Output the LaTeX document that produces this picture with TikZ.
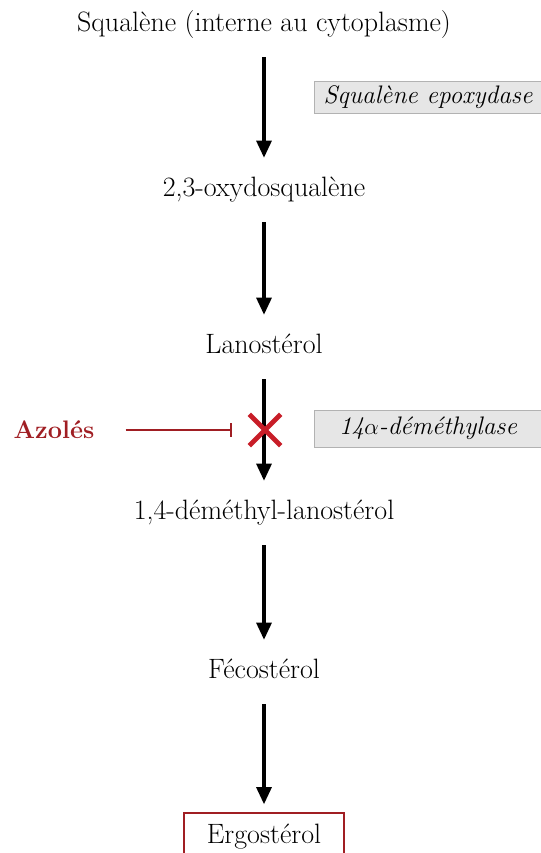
\documentclass[tikz,border=0pt]{standalone}
\usepackage{xcolor}
\usepackage{tikz}
\usetikzlibrary{arrows.meta,shapes.misc}
\definecolor{azolered}{RGB}{160,30,35}
\definecolor{crossred}{RGB}{200,30,40}
\definecolor{enzgray}{RGB}{230,230,230}

\begin{document}
\begin{tikzpicture}[x=0.75pt,y=-0.75pt,font=\fontsize{21}{25}\selectfont,
        compound/.style={text height=15pt,text depth=5pt},
        reaction/.style={-{Triangle[length=13pt,width=11pt]},line width=3pt,shorten <=10.5pt,shorten >=10.5pt},
        enzyme/.style={draw=gray!60,fill=enzgray,minimum width=170pt,minimum height=23pt,
            font=\fontsize{19}{22}\selectfont\itshape}]
        \useasboundingbox (0,0) rectangle (541,853);
        \node [compound] (squalene) at (264,25) {Squalène (interne au cytoplasme)};
        \node [compound] (oxydo) at (264,190) {2,3-oxydosqualène};
        \node [compound] (lano) at (264,347) {Lanostérol};
        \node [compound] (demethyl) at (264,513) {1,4-déméthyl-lanostérol};
        \node [compound] (feco) at (264,672) {Fécostérol};
        \node [draw=azolered,line width=0.8pt,minimum width=120pt,minimum height=36pt] (ergo) at (264,837) {Ergostérol};
        \foreach \from/\to in {squalene/oxydo,oxydo/lano,lano/demethyl,demethyl/feco}
            \draw [reaction] (\from) -- (\to);
        \draw [reaction,shorten >=6pt] (feco) -- (ergo);
        % enzymes
        \node [enzyme] (epox) at (428,97.5) {Squalène epoxydase};
        \node [enzyme,minimum height=28pt] (demeth) at (428,428.5) {14$\alpha$-déméthylase};
        % inhibition
        \node [cross out,draw=crossred,line width=3.5pt,minimum size=20pt] (block) at (265,430) {};
        \node [text=azolered,font=\fontsize{19}{22}\selectfont\bfseries] (azoles) at (54,430) {Azolés};
        \draw [azolered,line width=1.5pt,-{Bar[width=10pt]},shorten <=20pt,shorten >=13pt] (azoles) -- (block);
    \end{tikzpicture}
\end{document}
